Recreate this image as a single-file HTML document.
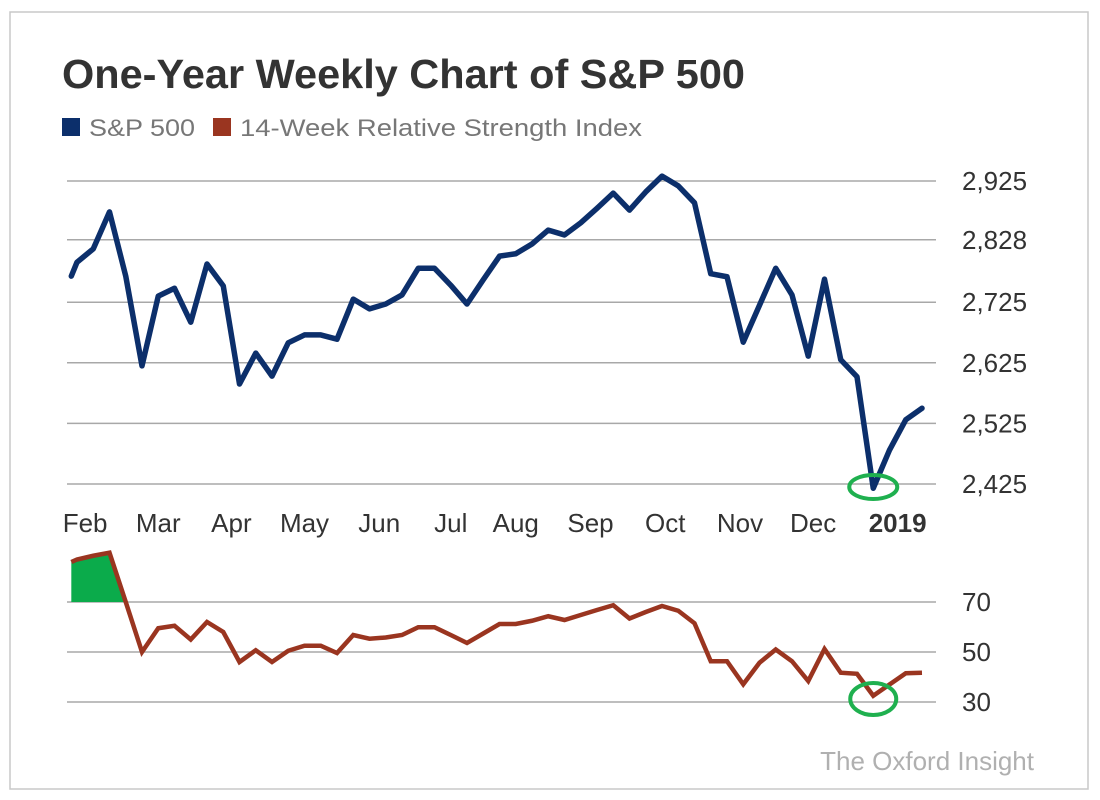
<!DOCTYPE html>
<html><head><meta charset="utf-8"><style>
body{margin:0;background:#fff;}
svg{display:block;font-family:"Liberation Sans",Arial,sans-serif;}
</style></head><body>
<svg id="chart" width="1100" height="800" viewBox="0 0 1100 800">
<rect x="10" y="12" width="1078" height="777" fill="#fff" stroke="#c8c8c8" stroke-width="1.5"/>
<text x="62" y="88" font-size="41" font-weight="bold" fill="#333" textLength="683" lengthAdjust="spacingAndGlyphs">One-Year Weekly Chart of S&amp;P 500</text>
<g>
<rect x="62" y="118" width="18" height="18" fill="#0c2f6b"/>
<text x="89" y="136" font-size="24" fill="#777" textLength="106" lengthAdjust="spacingAndGlyphs">S&amp;P 500</text>
<rect x="213" y="118" width="18" height="18" fill="#9a3520"/>
<text x="240" y="136" font-size="24" fill="#777" textLength="402" lengthAdjust="spacingAndGlyphs">14-Week Relative Strength Index</text>
</g>
<g id="grid"></g>
<g id="marks"></g>
<text x="1034" y="770" font-size="26" fill="#b0b0b0" text-anchor="end">The Oxford Insight</text>
</svg>
<script>
const weeks = [-0.35,0,1,2,3,4,5,6,7,8,9,10,11,12,13,14,15,16,17,18,19,20,21,22,23,24,25,26,27,28,29,30,31,32,33,34,35,36,37,38,39,40,41,42,43,44,45,46,47,48,49,50,51,52];
const spValues = [2768,2791,2813,2874,2768,2620,2735,2748,2692,2788,2752,2590,2641,2603,2658,2671,2671,2664,2730,2714,2722,2737,2781,2781,2753,2722,2762,2801,2805,2821,2844,2836,2856,2880,2905,2877,2907,2933,2917,2889,2772,2767,2659,2720,2781,2737,2636,2763,2630,2602,2418,2481,2531,2550];
const rsiValues = [86,87,88.5,89.7,70,50,59.5,60.5,55,62,58,46,50.7,46,50.5,52.5,52.5,49.6,56.8,55.3,55.8,56.8,59.9,59.9,56.8,53.6,57.4,61.2,61.2,62.5,64.3,62.8,64.8,66.8,68.7,63.4,66,68.4,66.5,61.5,46.3,46.3,37.1,45.7,51,46.3,38.4,51.2,41.7,41.3,32.5,37,41.5,41.7];
const spTicks = [2425,2525,2625,2725,2828,2925];
const spTickLabels = ["2,425","2,525","2,625","2,725","2,828","2,925"];
const rsiTicks = [30,50,70];
const monthLabels = ["Feb","Mar","Apr","May","Jun","Jul","Aug","Sep","Oct","Nov","Dec","2019"];
const monthWeeks = [0.5,5,9.5,14,18.6,23,27,31.6,36.2,40.8,45.3,50.5];

const NS="http://www.w3.org/2000/svg";
const x = w => 77 + w*16.25;
const ySp = v => 484 - (v-2425)/500*303;
const yRsi = v => 602 + (70-v)*2.5;
const grid=document.getElementById('grid'), marks=document.getElementById('marks');
function mk(tag, attrs, parent){const e=document.createElementNS(NS,tag);for(const k in attrs)e.setAttribute(k,attrs[k]);parent.appendChild(e);return e;}

spTicks.forEach((t,i)=>{
  const l=mk('line',{x1:67,x2:936,y1:ySp(t),y2:ySp(t),stroke:'#a8a8a8','stroke-width':1.5},grid);
  
  
  const tx=mk('text',{x:962,y:ySp(t)+9,'font-size':26,fill:'#333'},grid);
  tx.textContent=spTickLabels[i];
  
  
});
rsiTicks.forEach(t=>{
  const l=mk('line',{x1:67,x2:936,y1:yRsi(t),y2:yRsi(t),stroke:'#a8a8a8','stroke-width':1.5},grid);
  
  
  const tx=mk('text',{x:962,y:yRsi(t)+9,'font-size':26,fill:'#333'},grid);
  tx.textContent=String(t);
  
  
});
monthLabels.forEach((m,i)=>{
  const tx=mk('text',{x:x(monthWeeks[i]),y:532,'font-size':26,fill:'#333','text-anchor':'middle'},grid);
  if(m==='2019'){tx.setAttribute('font-weight','bold');}
  tx.textContent=m;
  
  
});

const clip=mk('clipPath',{id:'ob'},marks);
mk('rect',{x:0,y:0,width:1100,height:yRsi(70)},clip);
let area='M'+x(weeks[0])+','+yRsi(70);
weeks.forEach((w,i)=>{area+=' L'+x(w)+','+yRsi(rsiValues[i]);});
area+=' L'+x(weeks[weeks.length-1])+','+yRsi(70)+' Z';
const fill=mk('path',{d:area,fill:'#0bab4b','clip-path':'url(#ob)'},marks);



const spPts=weeks.map((w,i)=>x(w)+','+ySp(spValues[i])).join(' ');
const sp=mk('polyline',{points:spPts,fill:'none',stroke:'#0c2f6b','stroke-width':5.5,'stroke-linejoin':'round','stroke-linecap':'round'},marks);



const rsiPts=weeks.map((w,i)=>x(w)+','+yRsi(rsiValues[i])).join(' ');
const rsi=mk('polyline',{points:rsiPts,fill:'none',stroke:'#9a3520','stroke-width':4.5,'stroke-linejoin':'miter'},marks);



let mi=0; spValues.forEach((v,i)=>{if(v<spValues[mi])mi=i;});
const c1=mk('ellipse',{cx:x(weeks[mi]),cy:ySp(2425)+3,rx:24,ry:12,fill:'none',stroke:'#1fb04f','stroke-width':4},marks);


let ri=0; rsiValues.forEach((v,i)=>{if(v<rsiValues[ri])ri=i;});
const c2=mk('ellipse',{cx:x(weeks[ri]),cy:yRsi(30)-3,rx:23,ry:16,fill:'none',stroke:'#1fb04f','stroke-width':4},marks);


</script>
</body></html>
